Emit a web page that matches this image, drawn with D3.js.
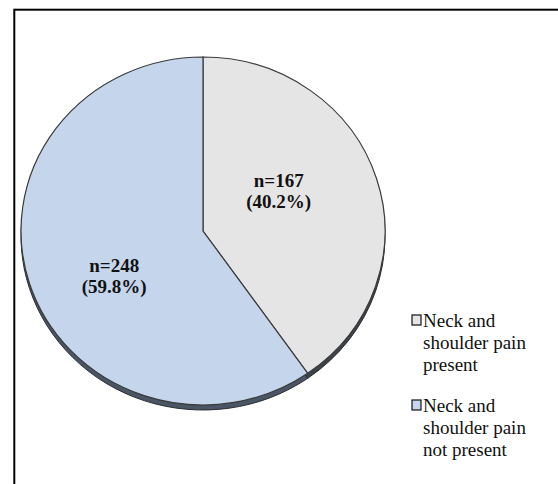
<!DOCTYPE html>
<html>
<head>
<meta charset="utf-8">
<script src="https://cdn.jsdelivr.net/npm/d3@7"></script>
<style>
  html, body { margin: 0; padding: 0; background: #fff; }
  svg { display: block; }
  .serif { font-family: "Liberation Serif", "Times New Roman", Times, "Nimbus Roman", "DejaVu Serif", serif; }
</style>
</head>
<body>
<svg id="chart" width="558" height="484"></svg>
<script>
const categories = ["Neck and shoulder pain present", "Neck and shoulder pain not present"];
const counts = [167, 248];
const percentLabels = ["40.2%", "59.8%"];
const legendLines = [["Neck and", "shoulder pain", "present"], ["Neck and", "shoulder pain", "not present"]];
const fills = ["#e5e5e5", "#c5d6ec"];
const sides = ["#3f4246", "#4a5565"];

(function () {
const svg = d3.select("#chart");

// frame (only top & left visible in the crop)
svg.append("rect").attr("x", 14.3).attr("y", 9.7).attr("width", 700).attr("height", 700)
  .attr("fill", "none").attr("stroke", "#000").attr("stroke-width", 2);

const cx = 203, cy = 231, rx = 182, ry = 174, depth = 5;
const sy = ry / rx;

const pie = d3.pie().sort(null).value(d => d)(counts);
const arc = d3.arc().innerRadius(0).outerRadius(rx);

// side (depth)
const sideG = svg.append("g").attr("transform", `translate(${cx},${cy + depth}) scale(1,${sy})`);
sideG.selectAll("path").data(pie).join("path")
  .attr("d", arc).attr("fill", (d, i) => sides[i])
  .attr("stroke", "#2a2d31").attr("stroke-width", 1).attr("vector-effect", "non-scaling-stroke");

// top face
const faceG = svg.append("g").attr("transform", `translate(${cx},${cy}) scale(1,${sy})`);
faceG.selectAll("path").data(pie).join("path")
  .attr("d", arc).attr("fill", (d, i) => fills[i])
  .attr("stroke", "#3a3a3a").attr("stroke-width", 1.2).attr("vector-effect", "non-scaling-stroke");

// labels
const labelArc = d3.arc().innerRadius(rx * 0.5).outerRadius(rx * 0.5);
const nudges = [[-11, -18], [-2, 15]];
pie.forEach((d, i) => {
  const c = labelArc.centroid(d);
  const x = cx + c[0] + nudges[i][0];
  const y = cy + c[1] * sy + nudges[i][1];
  const t = svg.append("text").attr("class", "serif").attr("x", x).attr("y", y)
    .attr("text-anchor", "middle")
    .style("font-weight", "bold").style("font-size", "19px").attr("fill", "#111");
  t.append("tspan").attr("x", x).attr("dy", 0).text("n=" + counts[i]);
  t.append("tspan").attr("x", x).attr("dy", 21).text("(" + percentLabels[i] + ")");
});

// legend
const legend = svg.append("g").attr("transform", "translate(412,315)");
legendLines.forEach((lines, i) => {
  const g = legend.append("g").attr("transform", `translate(0,${i * 85})`);
  g.append("rect").attr("x", 0).attr("y", 0).attr("width", 9).attr("height", 10)
    .attr("fill", fills[i]).attr("stroke", "#111").attr("stroke-width", 1.2);
  const t = g.append("text").attr("class", "serif").attr("x", 11).attr("y", 12)
    .style("font-size", "19px").attr("fill", "#111");
  lines.forEach((l, j) => t.append("tspan").attr("x", 11).attr("dy", j === 0 ? 0 : 22).text(l));
});
})();
</script>
</body>
</html>
